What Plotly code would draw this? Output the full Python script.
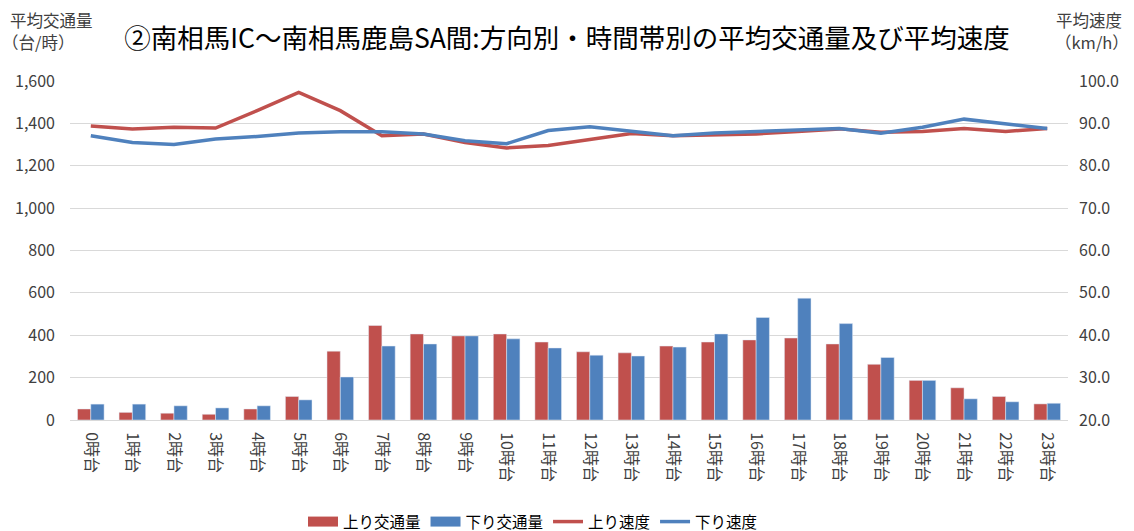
import plotly.graph_objects as go

hours = [f"{h}時台" for h in range(24)]
up_volume = [52, 36, 32, 27, 52, 111, 325, 446, 406, 397, 406, 368,
             322, 317, 349, 368, 378, 387, 359, 263, 187, 152, 111, 76]
down_volume = [75, 75, 67, 57, 67, 95, 203, 349, 359, 397, 383, 340,
               306, 302, 344, 406, 484, 575, 455, 295, 187, 100, 86, 79]
up_speed = [89.4, 88.7, 89.1, 88.9, 93.0, 97.3, 93.0, 87.1, 87.5, 85.5, 84.2, 84.8,
            86.2, 87.6, 87.1, 87.3, 87.5, 88.1, 88.7, 87.9, 88.1, 88.8, 88.1, 88.8]
down_speed = [87.1, 85.5, 85.0, 86.3, 86.9, 87.7, 88.0, 88.0, 87.5, 85.9, 85.2, 88.3,
              89.2, 88.1, 87.1, 87.7, 88.1, 88.4, 88.8, 87.7, 89.1, 91.0, 89.8, 88.8]

RED = "#C0504D"
BLUE = "#4F81BD"
FONT = "Noto Sans CJK JP"
TXT = "#404040"

fig = go.Figure()
fig.add_trace(go.Bar(x=hours, y=up_volume, name="上り交通量", marker_color=RED,
                     yaxis="y", showlegend=False))
fig.add_trace(go.Bar(x=hours, y=down_volume, name="下り交通量", marker_color=BLUE,
                     yaxis="y", showlegend=False))
# legend swatches for the bars (wide rectangles)
fig.add_trace(go.Scatter(x=[None], y=[None], name="上り交通量", mode="lines",
                         line=dict(color=RED, width=10), yaxis="y"))
fig.add_trace(go.Scatter(x=[None], y=[None], name="下り交通量", mode="lines",
                         line=dict(color=BLUE, width=10), yaxis="y"))
fig.add_trace(go.Scatter(x=hours, y=up_speed, name="上り速度", mode="lines",
                         line=dict(color=RED, width=3.5), yaxis="y2"))
fig.add_trace(go.Scatter(x=hours, y=down_speed, name="下り速度", mode="lines",
                         line=dict(color=BLUE, width=3.5), yaxis="y2"))

fig.update_layout(
    width=1134, height=531,
    margin=dict(l=70, r=66, t=81, b=111, autoexpand=False),
    paper_bgcolor="white", plot_bgcolor="white",
    font=dict(family=FONT, color=TXT, size=14),
    barmode="group", bargap=0.36, bargroupgap=0,
    title=dict(text="②南相馬IC～南相馬鹿島SA間:方向別・時間帯別の平均交通量及び平均速度",
               x=0.5, xanchor="center", y=0.928, yanchor="middle",
               font=dict(family=FONT, size=26.5, color="#000000")),
    xaxis=dict(tickangle=90, showgrid=False, showline=True, linecolor="#D9D9D9",
               linewidth=1, ticks="", automargin=False, ticklabelstandoff=8,
               tickfont=dict(size=16, color=TXT)),
    yaxis=dict(range=[0, 1600], dtick=200, tickformat=",", showgrid=True,
               gridcolor="#D9D9D9", zeroline=False, showline=False, ticks="",
               automargin=False, ticklabelstandoff=14, tickfont=dict(size=16, color=TXT)),
    yaxis2=dict(range=[20, 100], dtick=10, tickformat=".1f", overlaying="y", side="right",
                showgrid=False, zeroline=False, showline=False, ticks="",
                automargin=False, ticklabelstandoff=10, tickfont=dict(size=16, color=TXT)),
    legend=dict(orientation="h", x=533 / 1134, xanchor="center", xref="container",
                y=9 / 531, yanchor="middle", yref="container",
                font=dict(size=15.5, color="#000000"), traceorder="normal",
                itemwidth=30, tracegroupgap=0),
    annotations=[
        dict(text="平均交通量", xref="paper", yref="paper", x=-0.0621, y=1.180,
             xanchor="left", yanchor="middle", showarrow=False,
             font=dict(size=16.5, color=TXT)),
        dict(text="（台/時）", xref="paper", yref="paper", x=-0.0701, y=1.115,
             xanchor="left", yanchor="middle", showarrow=False,
             font=dict(size=16.5, color=TXT)),
        dict(text="平均速度", xref="paper", yref="paper", x=1.0561, y=1.180,
             xanchor="right", yanchor="middle", showarrow=False,
             font=dict(size=16.5, color=TXT)),
        dict(text="（km/h）", xref="paper", yref="paper", x=1.0631, y=1.115,
             xanchor="right", yanchor="middle", showarrow=False,
             font=dict(size=16.5, color=TXT)),
    ],
)

fig.write_html("out.html", config={"displayModeBar": False},
               post_script="document.body.style.margin='0';")
